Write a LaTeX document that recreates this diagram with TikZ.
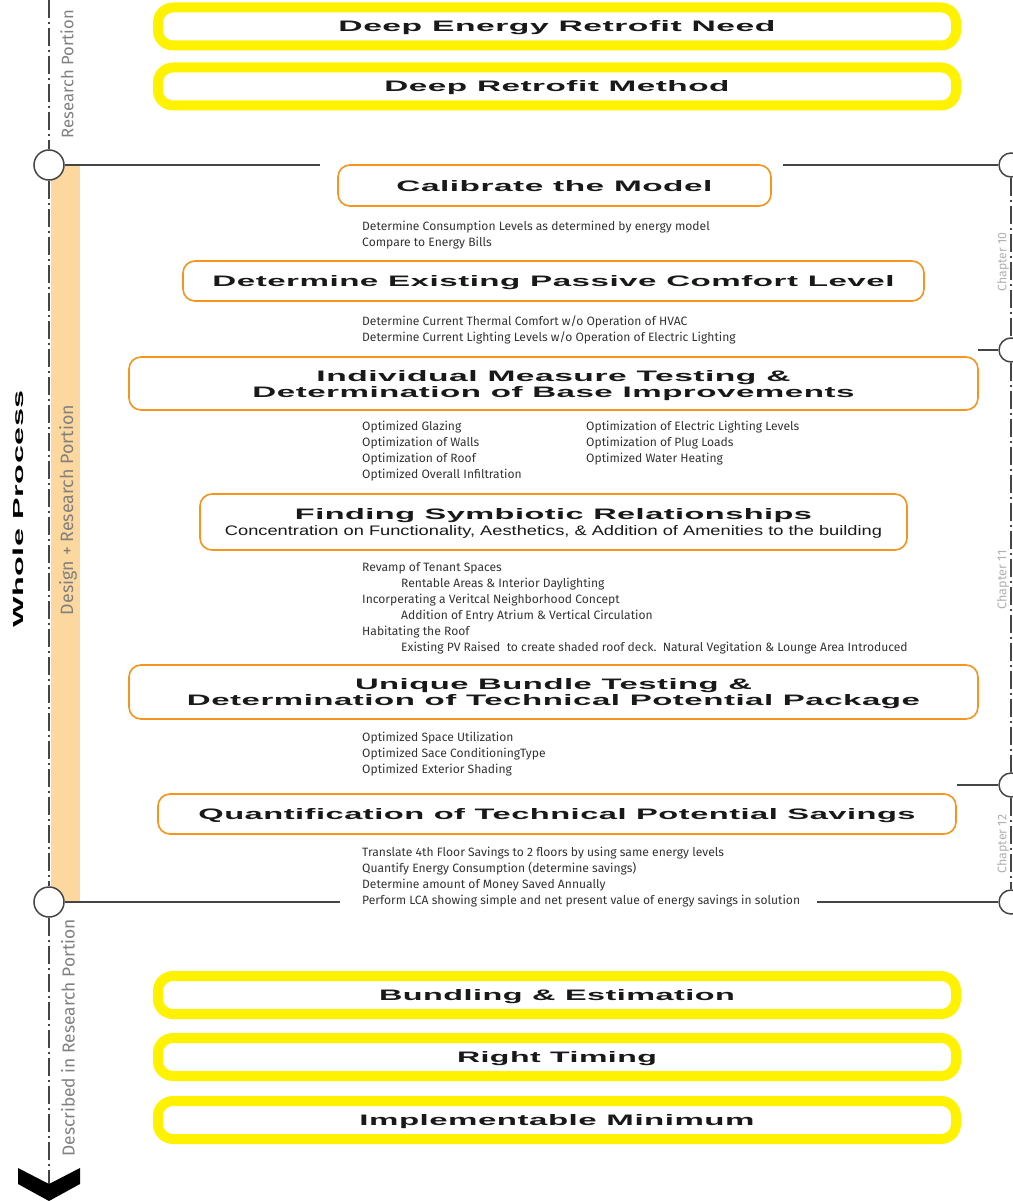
\documentclass[tikz,border=0pt]{standalone}
\usepackage{fontspec}
\setmainfont{Liberation Sans}
\newfontfamily\hdrf[LetterSpace=1.5]{Liberation Sans}
\newfontfamily\lsans{Liberation Sans}
\newfontfamily\bodyf{Fira Sans}
\usetikzlibrary{positioning}
\definecolor{ylw}{HTML}{FFF200}
\definecolor{orn}{HTML}{F7941D}
\definecolor{bandc}{HTML}{FDD89E}
\definecolor{lgray}{HTML}{454545}
\definecolor{tgray}{HTML}{808080}
\definecolor{cgray}{HTML}{B0B0B0}
\definecolor{txt}{HTML}{333333}
\newcommand\hd[3]{\raisebox{0pt}[\height][0pt]{\resizebox{#1pt}{#2pt}{\hdrf\bfseries #3}}}
\newcommand\bl[1]{\begin{tabular}[t]{@{}l@{}}#1\end{tabular}}
\newcommand\ind{\hspace*{39pt}}
\begin{document}
\begin{tikzpicture}[x=1pt,y=-1pt,
  ybox/.style={draw=ylw, line width=10pt, rounded corners=15pt, fill=white,
    minimum width=798pt, minimum height=38pt, inner sep=0pt, text=black!90,
    font=\fontsize{11}{16}\selectfont},
  obox/.style={draw=orn, line width=1.6pt, rounded corners=12pt, fill=white,
    inner sep=0pt, text=black!90, align=center, font=\fontsize{11}{16}\selectfont},
  body/.style={anchor=base west, inner sep=0pt, text=txt,
    font=\bodyf\fontsize{12.1}{16}\selectfont},
  side/.style={rotate=90, inner sep=0pt, text=tgray, font=\bodyf},
  chap/.style={rotate=90, inner sep=0pt, text=cgray, font=\bodyf},
  lcirc/.style={circle, draw=lgray, line width=1.5pt, fill=white, minimum size=30pt, inner sep=0pt},
  rcirc/.style={circle, draw=lgray, line width=1.5pt, fill=white, minimum size=24pt, inner sep=0pt},
  dd/.style={draw=lgray, line width=1.5pt, dash pattern=on 18pt off 4pt on 2pt off 4pt},
  hline/.style={draw=lgray, line width=1.5pt}
]
\useasboundingbox (0,0) rectangle (1012,1201);

% orange band
\fill[bandc] (51,165) rectangle (80,902);

% left dash-dot spine
\coordinate (ltop) at (49,0);
\coordinate (lbot) at (49,1186);
\node[lcirc] (lc1) at (49,165) {};
\node[lcirc] (lc2) at (49,902) {};
\draw[dd] (ltop) -- (lc1.north);
\draw[dd] (lc1.south) -- (lc2.north);
\draw[dd] (lc2.south) -- (lbot);
\fill[black] (18,1168) -- (49,1184) -- (80,1168) -- (80,1184) -- (49,1201) -- (18,1184) -- cycle;

% right spine
\node[rcirc] (rc1) at (1011,165) {};
\node[rcirc] (rc2) at (1011,350) {};
\node[rcirc] (rc3) at (1011,785) {};
\node[rcirc] (rc4) at (1011,902) {};
\draw[dd] (rc1.south) -- (rc2.north);
\draw[dd] (rc2.south) -- (rc3.north);
\draw[dd] (rc3.south) -- (rc4.north);

% horizontal connectors
\coordinate (h1) at (320,165);
\coordinate (h2) at (340,902);
\coordinate (h3) at (783,165);
\coordinate (h4) at (978,350);
\coordinate (h5) at (957,785);
\coordinate (h6) at (817,902);
\draw[hline] (lc1.east) -- (h1);
\draw[hline] (lc2.east) -- (h2);
\draw[hline] (h3) -- (rc1.west);
\draw[hline] (h4) -- (rc2.west);
\draw[hline] (h5) -- (rc3.west);
\draw[hline] (h6) -- (rc4.west);

% side labels
\node[side] (lres) at (67,74) {\resizebox{128pt}{!}{Research Portion}};
\node[side] (ldes) at (68,510) {\resizebox{210pt}{!}{Design + Research Portion}};
\node[side] (ldsc) at (68,1038) {\resizebox{237pt}{!}{Described in Research Portion}};
\node[rotate=90, inner sep=0pt] (whole) at (18,509) {\hd{237}{10.5}{Whole Process}};
\node[chap] (ch10) at (1003,262) {\resizebox{59pt}{!}{Chapter 10}};
\node[chap] (ch11) at (1003,580) {\resizebox{59pt}{!}{Chapter 11}};
\node[chap] (ch12) at (1003,844) {\resizebox{59pt}{!}{Chapter 12}};

% yellow boxes
\node[ybox] (y1) at (557,26.5) {\hd{437}{11}{Deep Energy Retrofit Need}};
\node[ybox] (y2) at (557,86.5) {\hd{345}{11}{Deep Retrofit Method}};
\node[ybox] (y3) at (557,995) {\hd{356}{11}{Bundling \& Estimation}};
\node[ybox] (y4) at (557,1057) {\hd{200}{11}{Right Timing}};
\node[ybox] (y5) at (557,1120) {\hd{395}{11}{Implementable Minimum}};

% orange boxes
\node[obox, minimum width=433pt, minimum height=41pt] (cal) at (554.5,185.5) {\hd{316}{11}{Calibrate the Model}};
\node[obox, minimum width=741pt, minimum height=40pt] (pas) at (553.5,281) {\hd{682}{11}{Determine Existing Passive Comfort Level}};
\node[obox, minimum width=849pt, minimum height=53pt] (ind) at (553.5,383.5) {\hd{474}{11}{Individual Measure Testing \&}\\\hd{602}{11}{Determination of Base Improvements}};
\node[obox, minimum width=707pt, minimum height=56pt] (sym) at (553.5,522) {\hd{517}{11}{Finding Symbiotic Relationships}\\\raisebox{0pt}[\height][0pt]{\resizebox{657pt}{10pt}{\lsans Concentration on Functionality, Aesthetics, \& Addition of Amenities to the building}}};
\node[obox, minimum width=849pt, minimum height=54pt] (uni) at (553.5,692) {\hd{397}{11}{Unique Bundle Testing \&}\\\hd{733}{11}{Determination of Technical Potential Package}};
\node[obox, minimum width=798pt, minimum height=40pt] (qua) at (557,814) {\hd{717}{11}{Quantification of Technical Potential Savings}};

% body texts
\node[body] (t1) at (362,230.5) {\bl{Determine Consumption Levels as determined by energy model\\Compare to Energy Bills}};
\node[body] (t2) at (362,325.5) {\bl{Determine Current Thermal Comfort w/o Operation of HVAC\\Determine Current Lighting Levels w/o Operation of Electric Lighting}};
\node[body] (t3a) at (362,430.5) {\bl{Optimized Glazing\\Optimization of Walls\\Optimization of Roof\\Optimized Overall Infiltration}};
\node[body] (t3b) at (586,430.5) {\bl{Optimization of Electric Lighting Levels\\Optimization of Plug Loads\\Optimized Water Heating}};
\node[body] (t4) at (362,571.5) {\bl{Revamp of Tenant Spaces\\\ind Rentable Areas \& Interior Daylighting\\Incorperating a Veritcal Neighborhood Concept\\\ind Addition of Entry Atrium \& Vertical Circulation\\Habitating the Roof\\\ind Existing PV Raised\ \ to create shaded roof deck.\ \ Natural Vegitation \& Lounge Area Introduced}};
\node[body] (t5) at (362,741.5) {\bl{Optimized Space Utilization\\Optimized Sace ConditioningType\\Optimized Exterior Shading}};
\node[body] (t6) at (362,856.5) {\bl{Translate 4th Floor Savings to 2 floors by using same energy levels\\Quantify Energy Consumption (determine savings)\\Determine amount of Money Saved Annually\\Perform LCA showing simple and net present value of energy savings in solution}};
\end{tikzpicture}
\end{document}
